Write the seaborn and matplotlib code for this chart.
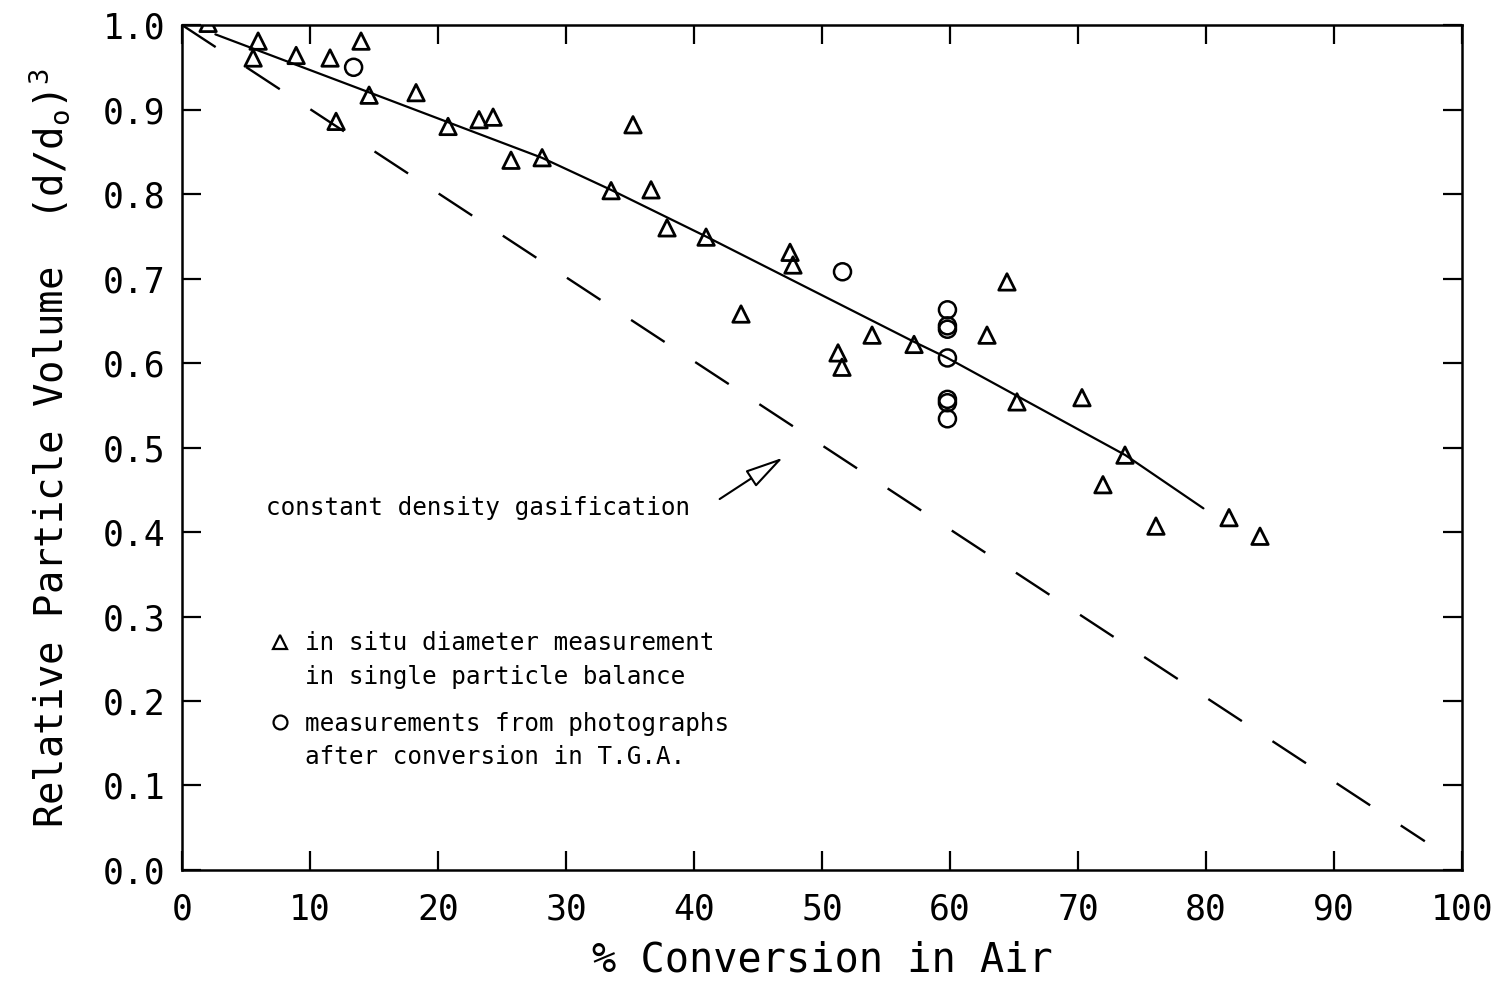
import matplotlib
matplotlib.use("Agg")
import matplotlib.pyplot as plt
import seaborn as sns
import pandas as pd
from matplotlib.lines import Line2D

# ---------------- data ----------------
tri_x = [2.03, 5.94, 5.55, 8.91, 11.56, 13.98, 14.61, 12.03, 18.28, 20.78,
         23.20, 24.30, 35.23, 25.70, 28.13, 33.52, 36.64, 37.89, 40.94, 47.50,
         47.73, 43.67, 51.25, 51.56, 53.91, 57.19, 64.45, 62.89, 65.23, 70.31,
         73.67, 71.95, 76.09, 81.80, 84.22]
tri_y = [1.002, 0.981, 0.961, 0.964, 0.961, 0.981, 0.917, 0.886, 0.920, 0.880,
         0.888, 0.891, 0.882, 0.840, 0.843, 0.804, 0.805, 0.760, 0.749, 0.731,
         0.716, 0.658, 0.612, 0.595, 0.633, 0.622, 0.696, 0.633, 0.554, 0.559,
         0.491, 0.456, 0.407, 0.417, 0.395]

circ_x = [13.4, 51.6, 59.8, 59.8, 59.8, 59.8, 59.8, 59.8, 59.8]
circ_y = [0.950, 0.708, 0.663, 0.644, 0.640, 0.606, 0.557, 0.553, 0.534]

fit_x = [2.6, 14.5, 28.1, 33.5, 40.9, 57.2, 59.8, 73.7, 79.8]
fit_y = [0.989, 0.921, 0.843, 0.805, 0.750, 0.625, 0.606, 0.491, 0.428]

const_x = [0.0, 97.1]
const_y = [1.0, 0.034]

x_ticks = [0, 10, 20, 30, 40, 50, 60, 70, 80, 90, 100]
y_ticks = [0.0, 0.1, 0.2, 0.3, 0.4, 0.5, 0.6, 0.7, 0.8, 0.9, 1.0]

label_tri = ["in situ diameter measurement", "in single particle balance"]
label_circ = ["measurements from photographs", "after conversion in T.G.A."]
annot_text = "constant density gasification"
x_label = "% Conversion in Air"
y_label = r"Relative Particle Volume  (d/d$_\mathregular{o}$)$^\mathregular{3}$"

# ---------------- style ----------------
sns.set_theme(style="ticks")
plt.rcParams["font.family"] = ["DejaVu Sans Mono", "DejaVu Sans"]
plt.rcParams["mathtext.fontset"] = "dejavusans"
plt.rcParams["text.color"] = "black"
plt.rcParams["axes.labelcolor"] = "black"
plt.rcParams["xtick.color"] = "black"
plt.rcParams["ytick.color"] = "black"

fig = plt.figure(figsize=(15.05, 10.06), dpi=100)
ax = fig.add_axes([0.121, 0.1352, 0.8504, 0.8399])

tri_df = pd.DataFrame({"x": tri_x, "y": tri_y})
circ_df = pd.DataFrame({"x": circ_x, "y": circ_y})
fit_df = pd.DataFrame({"x": fit_x, "y": fit_y})
const_df = pd.DataFrame({"x": const_x, "y": const_y})

sns.lineplot(data=const_df, x="x", y="y", ax=ax, color="black", lw=1.7,
             linestyle=(0, (17, 15.5)), sort=False)
sns.lineplot(data=fit_df, x="x", y="y", ax=ax, color="black", lw=1.6, sort=False)

sns.scatterplot(data=tri_df, x="x", y="y", ax=ax, marker="^", s=140,
                edgecolor="black", linewidth=2.0, zorder=5)
ax.collections[-1].set_facecolor("none")
sns.scatterplot(data=circ_df, x="x", y="y", ax=ax, marker="o", s=150,
                edgecolor="black", linewidth=1.8, zorder=5)
ax.collections[-1].set_facecolor("none")

ax.set_xlim(0, 100)
ax.set_ylim(0, 1.0)
ax.set_xticks(x_ticks)
ax.set_yticks(y_ticks)
ax.set_xticklabels([str(t) for t in x_ticks])
ax.set_yticklabels([f"{t:.1f}" for t in y_ticks])

for s in ax.spines.values():
    s.set_visible(True)
    s.set_color("black")
    s.set_linewidth(1.8)

ax.tick_params(axis="both", which="major", direction="in", length=14, width=1.6,
               color="black", labelcolor="black", labelsize=25, top=True,
               right=True, labeltop=False, labelright=False)
ax.tick_params(axis="x", pad=16)
ax.tick_params(axis="y", pad=12)

ax.set_xlabel(x_label, fontsize=29, labelpad=10, color="black")
ax.set_ylabel(y_label, fontsize=28, labelpad=22, color="black")

# annotation with arrow
ax.text(6.56, 0.428, annot_text, fontsize=17.5, ha="left", va="center",
        color="black")
ax.annotate("", xy=(46.95, 0.488), xytext=(42.0, 0.439),
            arrowprops=dict(arrowstyle="-|>,head_length=1.2,head_width=0.3",
                            lw=1.5, ec="black", fc="white", mutation_scale=20,
                            shrinkA=0, shrinkB=0))

# legend (two blocks)
blank = Line2D([], [], linestyle="none", marker=None)
tri_h = Line2D([], [], linestyle="none", marker="^", markersize=10,
               markerfacecolor="none", markeredgecolor="black", markeredgewidth=1.6)
circ_h = Line2D([], [], linestyle="none", marker="o", markersize=10,
                markerfacecolor="none", markeredgecolor="black", markeredgewidth=1.6)
common = dict(loc="upper left", frameon=False, fontsize=17.5, handlelength=1.0,
              handletextpad=0.53, borderpad=0, borderaxespad=0, labelspacing=0.38,
              labelcolor="black")
leg1 = ax.legend([tri_h, blank], label_tri, bbox_to_anchor=(0.0672, 0.2825), **common)
ax.add_artist(leg1)
ax.legend([circ_h, blank], label_circ, bbox_to_anchor=(0.0672, 0.1875), **common)

fig.savefig("out.png", dpi=100)
